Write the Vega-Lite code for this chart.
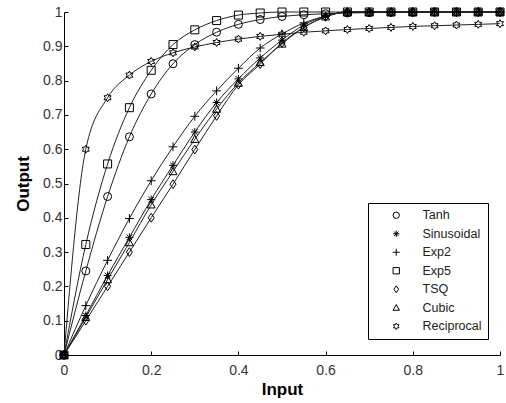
{
  "$schema": "https://vega.github.io/schema/vega-lite/v6.json",
  "autosize": "none",
  "width": 436,
  "height": 343,
  "padding": {"left": 64, "top": 12, "right": 6, "bottom": 48},
  "background": "white",
  "data": {
    "values": [
      {"x": 0, "Tanh": 0, "Sinusoidal": 0, "Exp2": 0, "Exp5": 0, "TSQ": 0, "Cubic": 0, "Reciprocal": 0},
      {"x": 0.05, "Tanh": 0.245, "Sinusoidal": 0.115, "Exp2": 0.144, "Exp5": 0.322, "TSQ": 0.1, "Cubic": 0.11, "Reciprocal": 0.6},
      {"x": 0.1, "Tanh": 0.462, "Sinusoidal": 0.232, "Exp2": 0.276, "Exp5": 0.557, "TSQ": 0.2, "Cubic": 0.22, "Reciprocal": 0.75},
      {"x": 0.15, "Tanh": 0.636, "Sinusoidal": 0.343, "Exp2": 0.398, "Exp5": 0.721, "TSQ": 0.3, "Cubic": 0.328, "Reciprocal": 0.816},
      {"x": 0.2, "Tanh": 0.761, "Sinusoidal": 0.453, "Exp2": 0.508, "Exp5": 0.83, "TSQ": 0.4, "Cubic": 0.438, "Reciprocal": 0.856},
      {"x": 0.25, "Tanh": 0.849, "Sinusoidal": 0.553, "Exp2": 0.607, "Exp5": 0.905, "TSQ": 0.498, "Cubic": 0.535, "Reciprocal": 0.881},
      {"x": 0.3, "Tanh": 0.905, "Sinusoidal": 0.65, "Exp2": 0.696, "Exp5": 0.948, "TSQ": 0.599, "Cubic": 0.629, "Reciprocal": 0.898},
      {"x": 0.35, "Tanh": 0.941, "Sinusoidal": 0.736, "Exp2": 0.77, "Exp5": 0.975, "TSQ": 0.697, "Cubic": 0.717, "Reciprocal": 0.911},
      {"x": 0.4, "Tanh": 0.964, "Sinusoidal": 0.805, "Exp2": 0.836, "Exp5": 0.991, "TSQ": 0.788, "Cubic": 0.793, "Reciprocal": 0.921},
      {"x": 0.45, "Tanh": 0.978, "Sinusoidal": 0.866, "Exp2": 0.895, "Exp5": 0.997, "TSQ": 0.848, "Cubic": 0.853, "Reciprocal": 0.929},
      {"x": 0.5, "Tanh": 0.987, "Sinusoidal": 0.918, "Exp2": 0.936, "Exp5": 1.0, "TSQ": 0.91, "Cubic": 0.907, "Reciprocal": 0.935},
      {"x": 0.55, "Tanh": 0.992, "Sinusoidal": 0.962, "Exp2": 0.968, "Exp5": 1.0, "TSQ": 0.955, "Cubic": 0.955, "Reciprocal": 0.941},
      {"x": 0.6, "Tanh": 0.995, "Sinusoidal": 0.988, "Exp2": 0.988, "Exp5": 1.0, "TSQ": 0.986, "Cubic": 0.986, "Reciprocal": 0.945},
      {"x": 0.65, "Tanh": 0.997, "Sinusoidal": 1.0, "Exp2": 1.0, "Exp5": 1.0, "TSQ": 1.0, "Cubic": 1.0, "Reciprocal": 0.949},
      {"x": 0.7, "Tanh": 0.998, "Sinusoidal": 1.0, "Exp2": 1.0, "Exp5": 1.0, "TSQ": 1.0, "Cubic": 1.0, "Reciprocal": 0.952},
      {"x": 0.75, "Tanh": 0.999, "Sinusoidal": 1.0, "Exp2": 1.0, "Exp5": 1.0, "TSQ": 1.0, "Cubic": 1.0, "Reciprocal": 0.955},
      {"x": 0.8, "Tanh": 0.999, "Sinusoidal": 1.0, "Exp2": 1.0, "Exp5": 1.0, "TSQ": 1.0, "Cubic": 1.0, "Reciprocal": 0.958},
      {"x": 0.85, "Tanh": 1.0, "Sinusoidal": 1.0, "Exp2": 1.0, "Exp5": 1.0, "TSQ": 1.0, "Cubic": 1.0, "Reciprocal": 0.96},
      {"x": 0.9, "Tanh": 1.0, "Sinusoidal": 1.0, "Exp2": 1.0, "Exp5": 1.0, "TSQ": 1.0, "Cubic": 1.0, "Reciprocal": 0.962},
      {"x": 0.95, "Tanh": 1.0, "Sinusoidal": 1.0, "Exp2": 1.0, "Exp5": 1.0, "TSQ": 1.0, "Cubic": 1.0, "Reciprocal": 0.964},
      {"x": 1.0, "Tanh": 1.0, "Sinusoidal": 1.0, "Exp2": 1.0, "Exp5": 1.0, "TSQ": 1.0, "Cubic": 1.0, "Reciprocal": 0.966}
    ]
  },
  "transform": [
    {"fold": ["Tanh", "Sinusoidal", "Exp2", "Exp5", "TSQ", "Cubic", "Reciprocal"], "as": ["series", "y"]}
  ],
  "config": {
    "view": {"stroke": null},
    "font": "Liberation Sans",
    "axis": {
      "domainColor": "black",
      "domainWidth": 1,
      "tickColor": "black",
      "tickSize": -4,
      "labelColor": "#333",
      "labelFont": "Liberation Sans",
      "labelFontSize": 14,
      "grid": false,
      "titleFont": "Liberation Sans",
      "titleFontSize": 17,
      "titleFontWeight": "bold",
      "titleColor": "black"
    }
  },
  "encoding": {
    "x": {
      "field": "x", "type": "quantitative",
      "scale": {"domain": [0, 1], "nice": false},
      "axis": {"title": "Input", "values": [0, 0.2, 0.4, 0.6, 0.8, 1], "format": "~g", "labelPadding": 12, "titlePadding": 4, "labelFlush": false}
    },
    "y": {
      "field": "y", "type": "quantitative",
      "scale": {"domain": [0, 1], "nice": false},
      "axis": {"title": "Output", "values": [0, 0.1, 0.2, 0.3, 0.4, 0.5, 0.6, 0.7, 0.8, 0.9, 1], "format": "~g", "labelPadding": 6, "titlePadding": 10, "labelFlush": false}
    }
  },
  "layer": [
    {
      "mark": {"type": "line", "color": "#222", "strokeWidth": 1, "interpolate": "monotone"},
      "encoding": {"detail": {"field": "series"}}
    },
    {
      "mark": {"type": "point", "filled": false, "color": "black", "strokeWidth": 1, "size": 64, "opacity": 1},
      "encoding": {
        "shape": {
          "field": "series", "type": "nominal",
          "scale": {
            "domain": ["Tanh", "Sinusoidal", "Exp2", "Exp5", "TSQ", "Cubic", "Reciprocal"],
            "range": [
              "circle",
              "M-1,0L1,0M0,-1L0,1M-0.7,-0.7L0.7,0.7M-0.7,0.7L0.7,-0.7",
              "M-1.1,0L1.1,0M0,-1.1L0,1.1",
              "square",
              "M0,-1.1L0.75,0L0,1.1L-0.75,0Z",
              "M0,-1L1,0.8L-1,0.8Z",
              "M0,-1L0.289,-0.5L0.866,-0.5L0.577,0L0.866,0.5L0.289,0.5L0,1L-0.289,0.5L-0.866,0.5L-0.577,0L-0.866,-0.5L-0.289,-0.5Z"
            ]
          },
          "legend": {
            "title": null,
            "orient": "none",
            "legendX": 304,
            "legendY": 191,
            "strokeColor": "black",
            "fillColor": "white",
            "padding": 6,
            "symbolOffset": 16,
            "labelOffset": 20,
            "rowPadding": 5.5,
            "labelFont": "Liberation Sans",
            "labelFontSize": 12.5,
            "labelColor": "#222",
            "symbolStrokeColor": "black",
            "symbolStrokeWidth": 1,
            "symbolSize": 40,
            "labelExpr": "datum.label + '\u2003\u2002'"
          }
        }
      }
    }
  ]
}
